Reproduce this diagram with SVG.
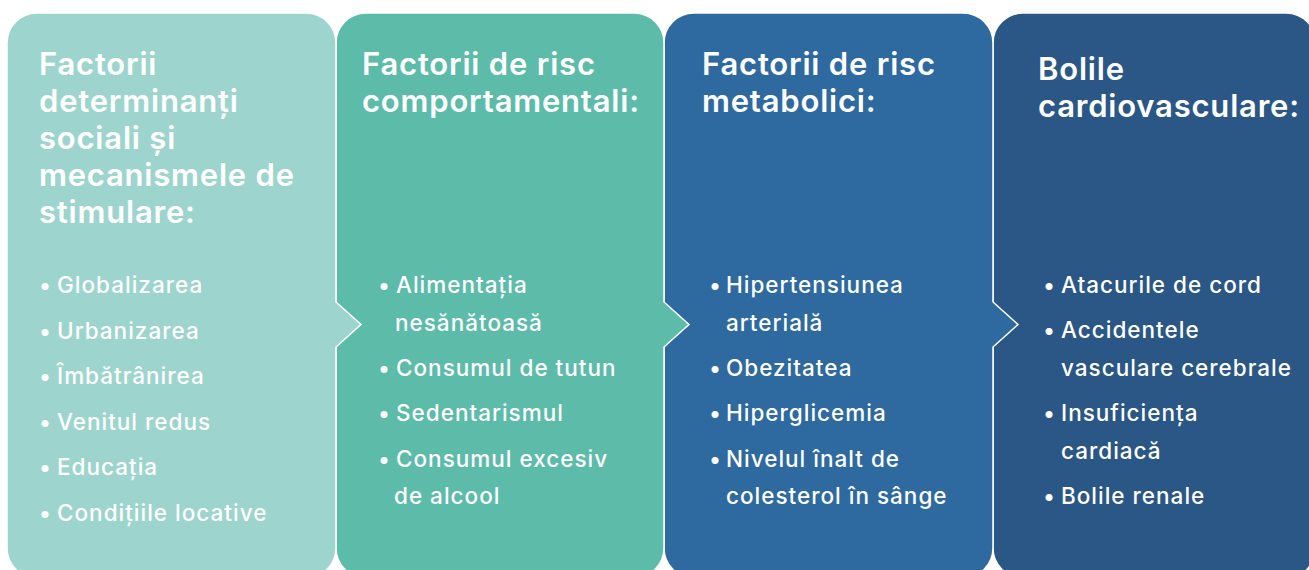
<svg xmlns="http://www.w3.org/2000/svg" width="1309" height="570" viewBox="0 0 1309 570">
<style>
.panel{stroke:#ffffff;stroke-width:1.5}
.t{font-family:Inter,"Noto Sans","Liberation Sans",sans-serif;font-weight:600;font-size:31px;letter-spacing:0.8px;fill:#ffffff}
.b{font-family:Inter,"Noto Sans","Liberation Sans",sans-serif;font-weight:450;font-size:22.5px;letter-spacing:1px;fill:#ffffff}
</style>
<rect width="1309" height="570" fill="#ffffff"/>
<g id="connectors"></g>
<g id="node4">
<path class="panel" fill="#2a5785" d="M1023,13 H1286 A30,30 0 0 1 1316,43 V548 A30,30 0 0 1 1286,578 H1023 A30,30 0 0 1 993,548 V43 A30,30 0 0 1 1023,13 Z"/>
<text class="t"><tspan x="1038" y="80">Bolile</tspan><tspan x="1038" y="117">cardiovasculare:</tspan></text>
<text class="b"><tspan x="1043" y="293">•</tspan><tspan x="1043" y="338">•</tspan><tspan x="1043" y="421">•</tspan><tspan x="1043" y="504">•</tspan></text>
<text class="b"><tspan x="1061" y="293">Atacurile de cord</tspan><tspan x="1061" y="338">Accidentele</tspan><tspan x="1061" y="376">vasculare cerebrale</tspan><tspan x="1061" y="421">Insuficiența</tspan><tspan x="1061" y="458.5">cardiacă</tspan><tspan x="1061" y="504">Bolile renale</tspan></text>
</g>
<g id="node3">
<path class="panel" fill="#2e6a9f" d="M694,13 H963 A30,30 0 0 1 993,43 V302 L1018,324.5 L993,347 V548 A30,30 0 0 1 963,578 H694 A30,30 0 0 1 664,548 V43 A30,30 0 0 1 694,13 Z"/>
<text class="t"><tspan x="702" y="75">Factorii de risc</tspan><tspan x="702" y="112">metabolici:</tspan></text>
<text class="b"><tspan x="709" y="293">•</tspan><tspan x="709" y="376">•</tspan><tspan x="709" y="421">•</tspan><tspan x="709" y="467">•</tspan></text>
<text class="b"><tspan x="726" y="293">Hipertensiunea</tspan><tspan x="726" y="330.5">arterială</tspan><tspan x="726" y="376">Obezitatea</tspan><tspan x="726" y="421">Hiperglicemia</tspan><tspan x="726" y="467">Nivelul înalt de</tspan><tspan x="726" y="504">colesterol în sânge</tspan></text>
</g>
<g id="node2">
<path class="panel" fill="#5dbbaa" d="M366,13 H634 A30,30 0 0 1 664,43 V302 L689,324.5 L664,347 V548 A30,30 0 0 1 634,578 H366 A30,30 0 0 1 336,548 V43 A30,30 0 0 1 366,13 Z"/>
<text class="t"><tspan x="362" y="75">Factorii de risc</tspan><tspan x="362" y="112">comportamentali:</tspan></text>
<text class="b"><tspan x="378" y="293">•</tspan><tspan x="378" y="376">•</tspan><tspan x="378" y="421">•</tspan><tspan x="378" y="467">•</tspan></text>
<text class="b"><tspan x="396" y="293">Alimentația</tspan><tspan x="395" y="330.5">nesănătoasă</tspan><tspan x="396" y="376">Consumul de tutun</tspan><tspan x="396" y="421">Sedentarismul</tspan><tspan x="396" y="467">Consumul excesiv</tspan><tspan x="394" y="504">de alcool</tspan></text>
</g>
<g id="node1">
<path class="panel" fill="#9dd5ce" d="M37,13 H306 A30,30 0 0 1 336,43 V302 L361,324.5 L336,347 V548 A30,30 0 0 1 306,578 H37 A30,30 0 0 1 7,548 V43 A30,30 0 0 1 37,13 Z"/>
<text class="t"><tspan x="39" y="75">Factorii</tspan><tspan x="39" y="112">determinanți</tspan><tspan x="39" y="149">sociali și</tspan><tspan x="39" y="186">mecanismele de</tspan><tspan x="39" y="223">stimulare:</tspan></text>
<text class="b"><tspan x="39" y="293">•</tspan><tspan x="39" y="338.5">•</tspan><tspan x="39" y="384">•</tspan><tspan x="39" y="429.5">•</tspan><tspan x="39" y="475">•</tspan><tspan x="39" y="520.5">•</tspan></text>
<text class="b"><tspan x="57" y="293">Globalizarea</tspan><tspan x="57" y="338.5">Urbanizarea</tspan><tspan x="57" y="384">Îmbătrânirea</tspan><tspan x="57" y="429.5">Venitul redus</tspan><tspan x="57" y="475">Educația</tspan><tspan x="57" y="520.5">Condițiile locative</tspan></text>
</g>
</svg>
